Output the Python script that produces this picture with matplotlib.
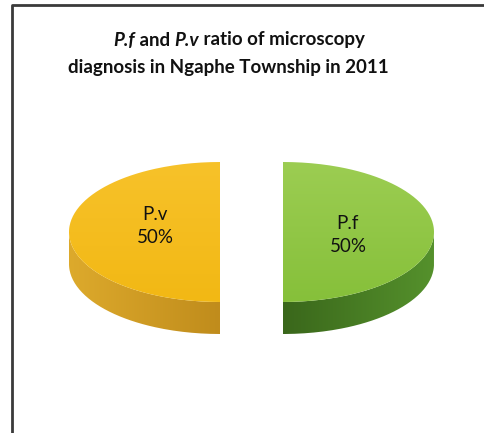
import numpy as np
import matplotlib
matplotlib.use('Agg')
import matplotlib.pyplot as plt
from matplotlib.path import Path
from matplotlib.patches import PathPatch
from matplotlib.colors import LinearSegmentedColormap

labels = ['P.v', 'P.f']
values = [50, 50]
top_colors = [('#F7C22A', '#F2B814'), ('#9CCD52', '#86C03A')]
side_colors = [('#DDAA2C', '#C08C1C'), ('#3A671B', '#55912C')]
title_line1 = [('P.f', 'italic'), (' and ', 'normal'), ('P.v', 'italic'), (' ratio of microscopy', 'normal')]
title_line2 = 'diagnosis in Ngaphe Township in 2011'

plt.rcParams['font.family'] = ['Lato', 'DejaVu Sans']

W, H = 485, 433
fig = plt.figure(figsize=(W / 100, H / 100), dpi=100)
ax = fig.add_axes([0, 0, 1, 1])
ax.set_xlim(0, W); ax.set_ylim(H, 0); ax.axis('off')

# frame (left + top only visible in crop)
ax.plot([12, 12, W], [H, 5, 5], color='#3a3a3a', lw=2, solid_capstyle='butt')

cx, cy, a, b, depth, explode = 251.5, 232, 151, 70, 32, 31.5
label_dy = [-6, 3]


def grad_fill(path, c0, c1, horizontal=True, z=2):
    cmap = LinearSegmentedColormap.from_list('g', [c0, c1])
    v = path.vertices
    x0, x1 = v[:, 0].min(), v[:, 0].max()
    y0, y1 = v[:, 1].min(), v[:, 1].max()
    g = np.linspace(0, 1, 256)
    img = g[None, :] if horizontal else g[:, None]
    im = ax.imshow(img, cmap=cmap, extent=(x0, x1, y1, y0), aspect='auto',
                   origin='upper', zorder=z, interpolation='bilinear')
    patch = PathPatch(path, facecolor='none', edgecolor='none')
    ax.add_patch(patch)
    im.set_clip_path(patch)


total = sum(values)
start = 90.0
for i, (lab, val) in enumerate(zip(labels, values)):
    span = 360.0 * val / total
    t0, t1 = start, start + span
    mid = np.radians((t0 + t1) / 2)
    ox = cx + explode * np.cos(mid)
    oy = cy - explode * (b / a) * np.sin(mid)
    th = np.radians(np.linspace(t0, t1, 200))
    ex = ox + a * np.cos(th)
    ey = oy - b * np.sin(th)
    # side wall: visible part is the front half
    front = np.sin(th) <= 1e-9
    if front.any():
        fx, fy = ex[front], ey[front]
        sx = np.concatenate([fx, fx[::-1]])
        sy = np.concatenate([fy, fy[::-1] + depth])
        side = Path(np.column_stack([sx, sy]))
        grad_fill(side, *side_colors[i], horizontal=True, z=2)
    # top face
    px = np.concatenate([[ox], ex, [ox]])
    py = np.concatenate([[oy], ey, [oy]])
    topp = Path(np.column_stack([px, py]))
    grad_fill(topp, *top_colors[i], horizontal=False, z=3)
    # label
    lx = ox + 0.43 * a * np.cos(mid)
    ly = oy + label_dy[i]
    pct = 100.0 * val / total
    ax.text(lx, ly, f'{lab}\n{pct:.0f}%', ha='center', va='center',
            fontsize=13.5, color='#111111', linespacing=1.45, zorder=5)
    start = t1

# title
fig.canvas.draw()
r = fig.canvas.get_renderer()
ts = 13.5
parts = []
for s, style in title_line1:
    t = ax.text(0, 40, s, fontsize=ts, fontweight='bold', style=style,
                ha='left', va='center', color='#111111')
    parts.append(t)
widths = [t.get_window_extent(r).width for t in parts]
x = 239 - sum(widths) / 2
for t, w in zip(parts, widths):
    t.set_x(x)
    x += w
ax.text(228, 67, title_line2, fontsize=ts, fontweight='bold', ha='center',
        va='center', color='#111111')

fig.savefig('out.png', dpi=100)
